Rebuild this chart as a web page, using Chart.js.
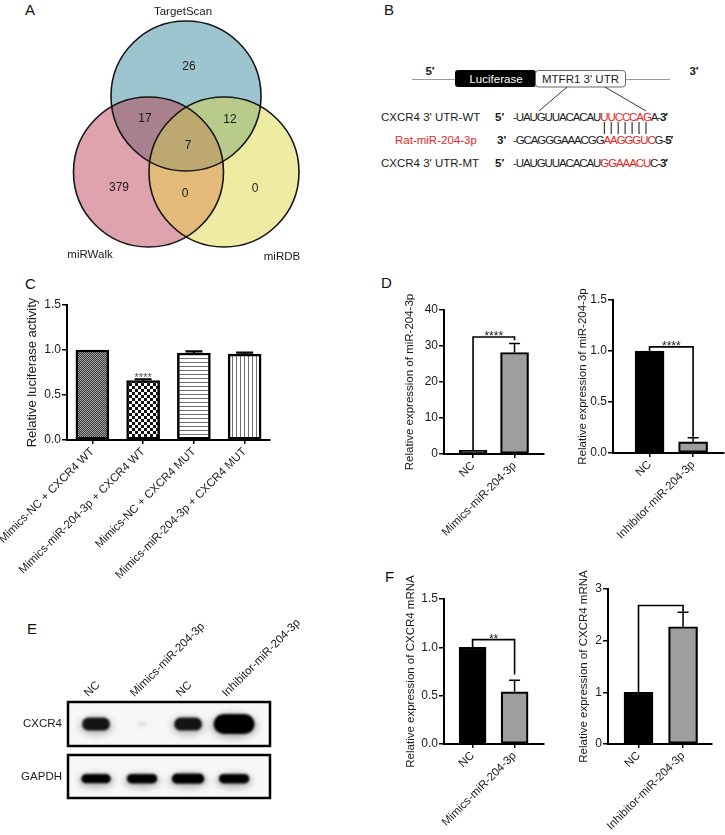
<!DOCTYPE html>
<html><head><meta charset="utf-8">
<script src="https://cdn.jsdelivr.net/npm/chart.js@4.4.0/dist/chart.umd.min.js"></script>
<style>
html,body{margin:0;padding:0;background:#fff;}
#page{position:relative;width:725px;height:835px;overflow:hidden;font-family:'Liberation Sans',Arial,Helvetica,sans-serif;color:#1a1a1a;}
.abs{position:absolute;}
.plabel{position:absolute;font-size:15px;line-height:1;color:#111;}
canvas{display:block;}
</style></head><body><div id="page">
<div class="plabel" style="left:25px;top:2px">A</div>
<div class="plabel" style="left:384px;top:2px">B</div>
<div class="plabel" style="left:25px;top:276px">C</div>
<div class="plabel" style="left:381px;top:275px">D</div>
<div class="plabel" style="left:27px;top:621px">E</div>
<div class="plabel" style="left:385px;top:569px">F</div>

<div class="abs" style="left:0;top:0;width:362px;height:275px"><canvas id="venn" width="362" height="275" style="width:362px;height:275px"></canvas></div>

<svg class="abs" style="left:362px;top:0" width="363" height="180" xmlns="http://www.w3.org/2000/svg" font-family="'Liberation Sans', Arial, sans-serif" font-size="11.5">
  <line x1="50" y1="79.5" x2="308" y2="79.5" stroke="#9a9a9a" stroke-width="1"/>
  <text x="68" y="75" text-anchor="middle" font-weight="bold" fill="#1a1a1a">5′</text>
  <text x="332" y="75" text-anchor="middle" font-weight="bold" fill="#1a1a1a">3′</text>
  <rect x="93" y="70" width="81" height="17" rx="3" fill="#000"/>
  <rect x="173.5" y="70.5" width="90" height="16.5" rx="3" fill="#fff" stroke="#666" stroke-width="1"/>
  <text x="134" y="82.5" text-anchor="middle" fill="#fff">Luciferase</text>
  <text x="218.5" y="82.5" text-anchor="middle" fill="#1a1a1a">MTFR1 3' UTR</text>
  <line x1="205" y1="87" x2="177" y2="111" stroke="#222" stroke-width="0.9"/>
  <line x1="243" y1="87" x2="284" y2="111" stroke="#222" stroke-width="0.9"/>
  <text x="19" y="121" fill="#1a1a1a">CXCR4 3' UTR-WT</text>
  <text x="33" y="144" fill="#e8251e">Rat-miR-204-3p</text>
  <text x="19" y="167" fill="#1a1a1a">CXCR4 3' UTR-MT</text>
  <text x="133" y="121" font-weight="bold" fill="#1a1a1a">5′</text>
  <text x="135" y="144" font-weight="bold" fill="#1a1a1a">3′</text>
  <text x="133" y="167" font-weight="bold" fill="#1a1a1a">5′</text>
  <text x="151" y="121" letter-spacing="-1.1" fill="#1a1a1a">-UAUGUUACACAU<tspan fill="#e8251e">UUCCCAG</tspan>A-<tspan font-weight="bold">3′</tspan></text>
  <text x="151" y="144" letter-spacing="-1.1" fill="#1a1a1a">-GCAGGGAAACGG<tspan fill="#e8251e">AAGGGUC</tspan>G-<tspan font-weight="bold">5′</tspan></text>
  <text x="151" y="167" letter-spacing="-1.1" fill="#1a1a1a">-UAUGUUACACAU<tspan fill="#e8251e">GGAAACU</tspan>C-<tspan font-weight="bold">3′</tspan></text>
  <g stroke="#111" stroke-width="1">
    <line x1="242.3" y1="122" x2="242.3" y2="134"/>
    <line x1="249.2" y1="122" x2="249.2" y2="134"/>
    <line x1="256.2" y1="122" x2="256.2" y2="134"/>
    <line x1="263.1" y1="122" x2="263.1" y2="134"/>
    <line x1="270.1" y1="122" x2="270.1" y2="134"/>
    <line x1="277.0" y1="122" x2="277.0" y2="134"/>
    <line x1="284.0" y1="122" x2="284.0" y2="134"/>
  </g>
</svg>

<div class="abs" style="left:0;top:290px"><canvas id="chartC" width="290" height="295" style="width:290px;height:295px"></canvas></div>
<div class="abs" style="left:380px;top:285px"><canvas id="chartDL" width="175" height="265" style="width:175px;height:265px"></canvas></div>
<div class="abs" style="left:555px;top:285px"><canvas id="chartDR" width="170" height="265" style="width:170px;height:265px"></canvas></div>
<div class="abs" style="left:380px;top:555px"><canvas id="chartFL" width="175" height="280" style="width:175px;height:280px"></canvas></div>
<div class="abs" style="left:555px;top:555px"><canvas id="chartFR" width="170" height="280" style="width:170px;height:280px"></canvas></div>
<div class="abs" style="left:0;top:600px"><canvas id="blot1" width="362" height="150" style="width:362px;height:150px"></canvas></div>
<div class="abs" style="left:0;top:750px"><canvas id="blot2" width="362" height="60" style="width:362px;height:60px"></canvas></div>
</div>
<script>
// ---------------- DATA ----------------
// Panel A (Venn)
const vennSetNames = ['TargetScan', 'miRWalk', 'miRDB'];
const vennRegionNames = ['TargetScan only', 'miRWalk only', 'miRDB only', 'TargetScan∩miRWalk', 'TargetScan∩miRDB', 'miRWalk∩miRDB', 'All three'];
const vennRegionCounts = [26, 379, 0, 17, 12, 0, 7];

// Panel C
const cCategories = ['Mimics-NC + CXCR4 WT', 'Mimics-miR-204-3p + CXCR4 WT', 'Mimics-NC + CXCR4 MUT', 'Mimics-miR-204-3p + CXCR4 MUT'];
const cValues = [1.0, 0.66, 0.967, 0.955];
const cErrors = [0, 0.015, 0.017, 0.015];
const cSignif = ['', '****', '', ''];
const cTicks = [0, 0.5, 1.0, 1.5];

// Panel D
const dLeftCategories = ['NC', 'Mimics-miR-204-3p'];
const dLeftValues = [1.0, 28.2];
const dLeftErrors = [0, 2.5];
const dLeftTicks = [0, 10, 20, 30, 40];
const dLeftBracket = [32.5, 1.0, 31.6];   // level, left leg end, right leg end
const dLeftSignif = '****';

const dRightCategories = ['NC', 'Inhibitor-miR-204-3p'];
const dRightValues = [1.0, 0.11];
const dRightErrors = [0, 0.04];
const dRightTicks = [0, 0.5, 1.0, 1.5];
const dRightBracket = [1.04, 1.0, 0.16];
const dRightSignif = '****';

// Panel E (band intensities, relative)
const eLanes = ['NC', 'Mimics-miR-204-3p', 'NC', 'Inhibitor-miR-204-3p'];
const eProteins = ['CXCR4', 'GAPDH'];
const eCXCR4 = [0.6, 0.05, 0.6, 1.0];
const eGAPDH = [0.85, 0.88, 0.95, 0.88];

// Panel F
const fLeftCategories = ['NC', 'Mimics-miR-204-3p'];
const fLeftValues = [1.0, 0.54];
const fLeftErrors = [0, 0.12];
const fLeftTicks = [0, 0.5, 1.0, 1.5];
const fLeftBracket = [1.08, 1.0, 0.72];
const fLeftSignif = '**';

const fRightCategories = ['NC', 'Inhibitor-miR-204-3p'];
const fRightValues = [1.0, 2.27];
const fRightErrors = [0, 0.28];
const fRightTicks = [0, 1, 2, 3];
const fRightBracket = [2.68, 1.0, 2.56];
const fRightSignif = '';

// ---------------- STYLE / LAYOUT ----------------
const FONT = "'Liberation Sans', Arial, Helvetica, sans-serif";
Chart.defaults.font.family = FONT;
Chart.defaults.color = '#1a1a1a';
Chart.defaults.animation = false;
Chart.defaults.events = [];
Chart.defaults.plugins.legend.display = false;
Chart.defaults.plugins.tooltip.enabled = false;

const vennLayout = {
  circles: [{x: 186, y: 96, r: 75}, {x: 148.5, y: 172, r: 75}, {x: 224, y: 172, r: 75}],
  setLabelPos: [[183, 12], [90, 255], [282, 257]],
  regionLabelPos: [[189, 67], [119, 188], [255, 189], [145, 119], [230, 120], [185, 194], [188, 146]],
  single: ['#9dc5d0', '#dfa3ad', '#eeeba3'],
  pair: ['#a8808e', '#b9cb8b', '#e3ba79'],
  triple: '#bea872'
};

// ---------------- PANEL A ----------------
const vennPlugin = {
  id: 'vennFill',
  beforeDatasetsDraw(chart, args, o) {
    const els = chart.getDatasetMeta(0).data;
    const c = chart.ctx;
    const circ = (el) => { c.beginPath(); c.arc(el.x, el.y, el.options.radius, 0, Math.PI * 2); };
    c.save();
    els.forEach((el, i) => { c.fillStyle = o.single[i]; circ(el); c.fill(); });
    [[0, 1], [0, 2], [1, 2]].forEach(([a, b], k) => {
      c.save(); circ(els[a]); c.clip(); c.fillStyle = o.pair[k]; circ(els[b]); c.fill(); c.restore();
    });
    c.save(); circ(els[0]); c.clip(); circ(els[1]); c.clip(); c.fillStyle = o.triple; circ(els[2]); c.fill(); c.restore();
    c.restore();
  },
  afterDatasetsDraw(chart, args, o) {
    const c = chart.ctx, xs = chart.scales.x, ys = chart.scales.y;
    c.save();
    c.fillStyle = '#1a1a1a';
    c.textAlign = 'center'; c.textBaseline = 'middle';
    c.font = '11.5px ' + FONT;
    vennSetNames.forEach((n, i) => {
      const p = o.setLabelPos[i];
      c.fillText(n, xs.getPixelForValue(p[0]), ys.getPixelForValue(p[1]));
    });
    c.font = '12px ' + FONT;
    vennRegionCounts.forEach((v, i) => {
      const p = o.regionLabelPos[i];
      c.fillText(String(v), xs.getPixelForValue(p[0]), ys.getPixelForValue(p[1]));
    });
    c.restore();
  }
};
new Chart(document.getElementById('venn'), {
  type: 'bubble',
  data: {datasets: [{
    label: 'sets',
    data: vennLayout.circles.map(cc => ({x: cc.x, y: cc.y, r: cc.r})),
    backgroundColor: 'rgba(0,0,0,0)', borderColor: '#151515', borderWidth: 1.6
  }]},
  options: {
    responsive: false, clip: false,
    layout: {padding: 0, autoPadding: false},
    scales: {
      x: {type: 'linear', min: 0, max: 362, display: false},
      y: {type: 'linear', min: 0, max: 275, reverse: true, display: false}
    },
    plugins: {vennFill: vennLayout}
  },
  plugins: [vennPlugin]
});

// ---------------- BAR CHARTS ----------------
const errPlugin = {
  id: 'errbars',
  afterDatasetsDraw(chart, args, o) {
    const meta = chart.getDatasetMeta(0), ys = chart.scales.y, c = chart.ctx;
    c.save();
    c.strokeStyle = '#000'; c.lineWidth = o.lw;
    meta.data.forEach((el, i) => {
      const e = o.errors[i]; if (!e) return;
      const yTop = ys.getPixelForValue(o.values[i] + e);
      c.beginPath();
      c.moveTo(el.x, el.y); c.lineTo(el.x, yTop);
      c.moveTo(el.x - o.capW / 2, yTop); c.lineTo(el.x + o.capW / 2, yTop);
      c.stroke();
      if (o.stars && o.stars[i]) {
        c.fillStyle = '#555'; c.font = o.starFont + 'px ' + FONT;
        c.textAlign = 'center'; c.textBaseline = 'alphabetic';
        c.fillText(o.stars[i], el.x, yTop + 2);
      }
    });
    if (o.bracket) {
      const [lvl, l0, l1] = o.bracket;
      const x0 = meta.data[0].x, x1 = meta.data[1].x, yb = ys.getPixelForValue(lvl);
      c.lineWidth = 1.6;
      c.beginPath();
      c.moveTo(x0, ys.getPixelForValue(l0)); c.lineTo(x0, yb); c.lineTo(x1, yb); c.lineTo(x1, ys.getPixelForValue(l1));
      c.stroke();
      if (o.sig) {
        c.fillStyle = '#1a1a1a'; c.font = '12px ' + FONT;
        c.textAlign = 'center'; c.textBaseline = 'alphabetic';
        c.fillText(o.sig, (x0 + x1) / 2, yb + 3);
      }
    }
    c.restore();
  }
};

function makeBar(id, o) {
  const el = document.getElementById(id);
  const cw = el.width, ch = el.height;
  const axisLine = {display: true, color: '#000', width: 2};
  return new Chart(el, {
    type: 'bar',
    data: {datasets: [{
      data: o.values.map((v, i) => ({x: i, y: v})),
      backgroundColor: o.fills, borderColor: '#000', borderWidth: o.borderW,
      borderSkipped: false, barThickness: o.barW
    }]},
    options: {
      responsive: false, maintainAspectRatio: false,
      layout: {padding: {left: 0, top: o.area.top, right: cw - o.area.right, bottom: 0}},
      scales: {
        x: {
          type: 'linear', min: o.xMin, max: o.xMax, offset: false,
          afterBuildTicks: s => { s.ticks = o.categories.map((_, i) => ({value: i})); },
          afterFit: s => { s.height = ch - o.area.bottom; s.paddingLeft = 0; s.paddingRight = 0; },
          ticks: {callback: v => o.categories[v], autoSkip: false, minRotation: 45, maxRotation: 45,
                  padding: 1, font: {size: 11.5}, color: '#1a1a1a'},
          grid: {display: true, drawOnChartArea: false, drawTicks: true, tickLength: 4,
                 color: '#000', lineWidth: 1.5, offset: false},
          border: axisLine
        },
        y: {
          type: 'linear', min: o.yTicks[0], max: o.yTicks[o.yTicks.length - 1],
          afterBuildTicks: s => { s.ticks = o.yTicks.map(v => ({value: v})); },
          afterFit: s => { s.width = o.area.left; s.paddingTop = 0; s.paddingBottom = 0; },
          ticks: {callback: v => Number(v).toFixed(o.dec), padding: 1, font: {size: 12}, color: '#1a1a1a'},
          grid: {display: true, drawOnChartArea: false, drawTicks: true, tickLength: 5,
                 color: '#000', lineWidth: 1.5},
          border: axisLine,
          title: {display: true, text: o.yTitle, font: {size: o.titleSize}, color: '#1a1a1a',
                  padding: {top: o.titlePad, bottom: 0}}
        }
      },
      plugins: {errbars: {values: o.values, errors: o.errors, capW: o.capW, lw: o.errLW,
                          stars: o.stars, starFont: o.starFont, bracket: o.bracket, sig: o.sig}}
    },
    plugins: [errPlugin]
  });
}

function pattern(kind) {
  const c = document.createElement('canvas'); const g = c.getContext('2d');
  if (kind === 'dense') {
    c.width = c.height = 2;
    g.fillStyle = '#3e3e3e'; g.fillRect(0, 0, 2, 2);
    g.fillStyle = '#a0a0a0'; g.fillRect(0, 0, 1, 1); g.fillRect(1, 1, 1, 1);
  } else if (kind === 'checker') {
    c.width = c.height = 6;
    g.fillStyle = '#fff'; g.fillRect(0, 0, 6, 6);
    g.fillStyle = '#111'; g.fillRect(0, 0, 3, 3); g.fillRect(3, 3, 3, 3);
  } else if (kind === 'hlines') {
    c.width = c.height = 4;
    g.fillStyle = '#fff'; g.fillRect(0, 0, 4, 4);
    g.fillStyle = '#707070'; g.fillRect(0, 0, 4, 1);
  } else {
    c.width = c.height = 4;
    g.fillStyle = '#fff'; g.fillRect(0, 0, 4, 4);
    g.fillStyle = '#707070'; g.fillRect(0, 0, 1, 4);
  }
  return g.createPattern(c, 'repeat');
}

makeBar('chartC', {
  categories: cCategories, values: cValues, errors: cErrors, stars: cSignif, starFont: 11,
  yTicks: cTicks, dec: 1, yTitle: 'Relative luciferase activity', titleSize: 13, titlePad: 25,
  fills: [pattern('dense'), pattern('checker'), pattern('hlines'), pattern('vlines')],
  borderW: 2.5, barW: 33, capW: 17, errLW: 2.2,
  xMin: -0.5, xMax: 3.5, area: {left: 67, top: 15, right: 270, bottom: 150}
});
const GRAY = '#9e9e9e';
makeBar('chartDL', {
  categories: dLeftCategories, values: dLeftValues, errors: dLeftErrors,
  yTicks: dLeftTicks, dec: 0, yTitle: 'Relative expression of miR-204-3p', titleSize: 11.5, titlePad: 23,
  fills: ['#000', GRAY], borderW: 2.2, barW: 28, capW: 11, errLW: 1.5,
  bracket: dLeftBracket, sig: dLeftSignif,
  xMin: -0.70, xMax: 1.71, area: {left: 64, top: 25, right: 164, bottom: 169}
});
makeBar('chartDR', {
  categories: dRightCategories, values: dRightValues, errors: dRightErrors,
  yTicks: dRightTicks, dec: 1, yTitle: 'Relative expression of miR-204-3p', titleSize: 11.5, titlePad: 21,
  fills: ['#000', GRAY], borderW: 2.2, barW: 29, capW: 11, errLW: 1.5,
  bracket: dRightBracket, sig: dRightSignif,
  xMin: -0.84, xMax: 1.71, area: {left: 58, top: 15, right: 169, bottom: 168}
});
makeBar('chartFL', {
  categories: fLeftCategories, values: fLeftValues, errors: fLeftErrors,
  yTicks: fLeftTicks, dec: 1, yTitle: 'Relative expression of CXCR4 mRNA', titleSize: 11.5, titlePad: 24,
  fills: ['#000', GRAY], borderW: 2.2, barW: 27, capW: 11, errLW: 1.5,
  bracket: fLeftBracket, sig: fLeftSignif,
  xMin: -0.68, xMax: 1.70, area: {left: 64, top: 44, right: 164, bottom: 189}
});
makeBar('chartFR', {
  categories: fRightCategories, values: fRightValues, errors: fRightErrors,
  yTicks: fRightTicks, dec: 0, yTitle: 'Relative expression of CXCR4 mRNA', titleSize: 11.5, titlePad: 22,
  fills: ['#000', GRAY], borderW: 2.2, barW: 29, capW: 11, errLW: 1.5,
  bracket: fRightBracket, sig: fRightSignif,
  xMin: -0.685, xMax: 1.65, area: {left: 53, top: 34, right: 157, bottom: 189}
});

// ---------------- PANEL E (blot) ----------------
const blotPlugin = {
  id: 'blot',
  beforeDatasetsDraw(chart, args, o) {
    const c = chart.ctx, a = chart.chartArea;
    c.save();
    c.fillStyle = '#f7f7f7';
    c.fillRect(a.left, a.top, a.right - a.left, a.bottom - a.top);
    c.beginPath(); c.rect(a.left, a.top, a.right - a.left, a.bottom - a.top); c.clip();
    chart.getDatasetMeta(0).data.forEach((el, i) => {
      const I = o.intensity[i];
      const w = o.w0 + o.wk * I, h = o.h0 + o.hk * I;
      const alpha = Math.min(1, I * 1.5);
      c.filter = 'blur(3px)';
      c.fillStyle = 'rgba(0,0,0,' + (alpha * 0.25) + ')';
      c.beginPath(); c.ellipse(el.x, el.y + 2, w / 2 + 3, h / 2 + 3, 0, 0, Math.PI * 2); c.fill();
      c.filter = 'blur(1.2px)';
      c.fillStyle = 'rgba(0,0,0,' + alpha + ')';
      c.beginPath(); c.roundRect(el.x - w / 2, el.y - h / 2, w, h, h / 2); c.fill();
    });
    c.restore();
  },
  afterDatasetsDraw(chart) {
    const c = chart.ctx, a = chart.chartArea;
    c.save(); c.strokeStyle = '#000'; c.lineWidth = 2.5;
    c.strokeRect(a.left, a.top, a.right - a.left, a.bottom - a.top);
    c.restore();
  }
};
function makeBlot(id, o) {
  const el = document.getElementById(id);
  return new Chart(el, {
    type: 'scatter',
    data: {datasets: [{data: o.intensity.map((v, i) => ({x: i, y: o.yOff})), pointRadius: 0}]},
    options: {
      responsive: false,
      layout: {padding: {left: 0, top: o.padTop, right: el.width - 270, bottom: o.padBottom}, autoPadding: false},
      scales: {
        x: {type: 'linear', position: 'top', min: -0.609, max: 3.78, display: o.showLanes,
            afterBuildTicks: s => { s.ticks = eLanes.map((_, i) => ({value: i})); },
            afterFit: s => { s.height = o.xH; s.paddingLeft = 0; s.paddingRight = 0; },
            ticks: {callback: v => eLanes[v], autoSkip: false, minRotation: 45, maxRotation: 45,
                    padding: 2, font: {size: 11.5}, color: '#1a1a1a'},
            grid: {display: false, drawTicks: false}, border: {display: false}},
        y: {type: 'linear', min: -1, max: 1,
            afterBuildTicks: s => { s.ticks = [{value: 0}]; },
            afterFit: s => { s.width = 68; s.paddingTop = 0; s.paddingBottom = 0; },
            ticks: {callback: () => o.rowName, padding: 6, font: {size: 11.5}, color: '#1a1a1a'},
            grid: {display: false, drawTicks: false}, border: {display: false}}
      },
      plugins: {blot: {intensity: o.intensity, w0: o.w0, wk: o.wk, h0: o.h0, hk: o.hk}}
    },
    plugins: [blotPlugin]
  });
}
makeBlot('blot1', {intensity: eCXCR4, rowName: eProteins[0], showLanes: true, xH: 102,
  padTop: 0, padBottom: 4, yOff: 0, w0: 8, wk: 33, h0: 3, hk: 17});
makeBlot('blot2', {intensity: eGAPDH, rowName: eProteins[1], showLanes: false, xH: 0,
  padTop: 5, padBottom: 12, yOff: -0.1, w0: 4, wk: 30, h0: 2, hk: 8.5});
</script>
</body></html>
